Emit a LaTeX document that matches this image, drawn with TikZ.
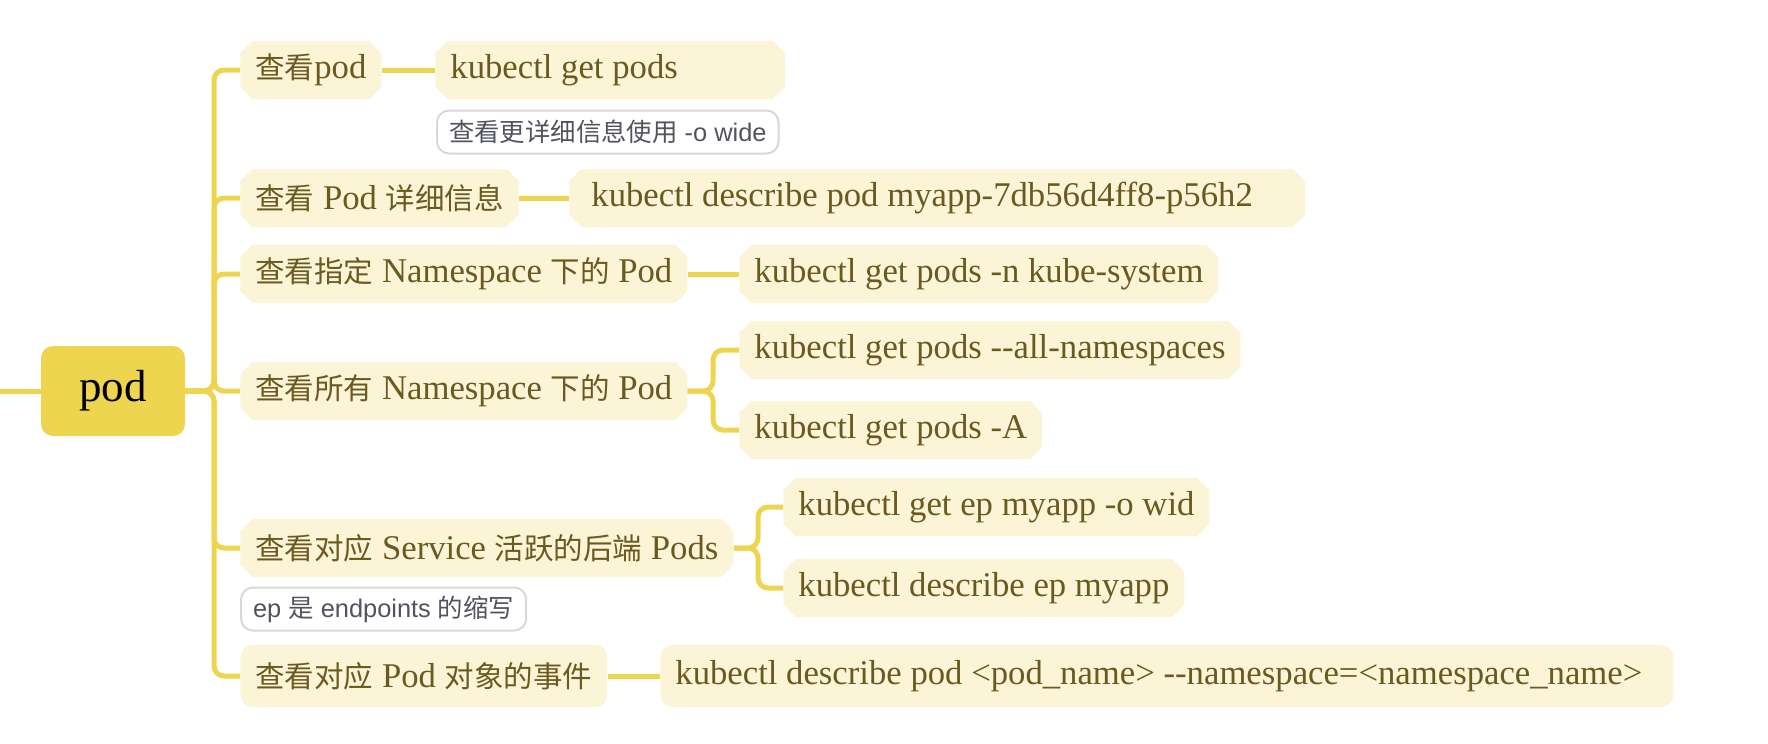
\documentclass[tikz,border=0pt]{standalone}
\usepackage{fontspec}
\setmainfont{Liberation Serif}
\setsansfont{Liberation Sans}
\newfontfamily\cjk{Noto Sans CJK SC}[Scale=0.85]
\newfontfamily\cjknote{Noto Sans CJK SC}
\newcommand{\zh}[1]{{\cjk #1}}
\newcommand{\zhn}[1]{{\cjknote #1}}
\definecolor{linkc}{HTML}{EED54F}
\definecolor{rootc}{HTML}{EED54F}
\definecolor{boxc}{HTML}{FCF4D7}
\definecolor{textc}{HTML}{6B5A1F}
\definecolor{notec}{HTML}{D8D8DC}
\definecolor{notetext}{HTML}{51545E}
\usetikzlibrary{shapes.misc}

\begin{document}
\begin{tikzpicture}[x=0.5pt, y=-0.5pt, font=\fontsize{17.35pt}{20pt}\selectfont]
    \tikzset{
        link/.style={draw=linkc, line width=2.5pt, rounded corners=5pt},
        rootbox/.style={fill=rootc, rounded corners=6pt, minimum width=72pt, minimum height=45pt,
            font=\fontsize{22.5pt}{26pt}\selectfont},
        topic/.style={chamfered rectangle, chamfered rectangle xsep=3pt, chamfered rectangle ysep=3pt,
            fill=boxc, text=textc, anchor=west, inner xsep=4.5pt, inner ysep=0pt, minimum height=29pt},
        roundtopic/.style={fill=boxc, text=textc, anchor=west, rounded corners=6pt, inner xsep=7.5pt,
            inner ysep=0pt, minimum height=31pt},
        note/.style={draw=notec, line width=1pt, fill=white, rounded corners=6pt, text=notetext,
            font=\sffamily\fontsize{12.7pt}{15pt}\selectfont, anchor=west, inner xsep=6pt,
            inner ysep=0pt, minimum height=21.5pt},
    }
    \useasboundingbox (0,0) rectangle (1768,744);

    \node[rootbox] (root) at (113,391) {pod};
    \coordinate (stub) at (0,391);
    \coordinate (spine) at (214,391);

    % first level
    \node[topic] (t1) at (240,70) {\zh{查看}pod};
    \node[topic] (t2) at (240,198) {\zh{查看} Pod \zh{详细信息}};
    \node[topic] (t3) at (240,274) {\zh{查看指定} Namespace \zh{下的} Pod};
    \node[topic] (t4) at (240,391) {\zh{查看所有} Namespace \zh{下的} Pod};
    \node[topic] (t5) at (240,548) {\zh{查看对应} Service \zh{活跃的后端} Pods};
    \node[roundtopic] (t6) at (240,676) {\zh{查看对应} Pod \zh{对象的事件}};

    % notes
    \node[note] (n1) at (436,132) {\zhn{查看更详细信息使用} -o wide};
    \node[note] (n5) at (240,609) {ep \zhn{是} endpoints \zhn{的缩写}};

    % commands
    \node[topic] (c1) at (435,70) {kubectl get pods\hspace{46pt}\mbox{}};
    \node[topic] (c2) at (569,198) {\hspace{3.5pt}kubectl describe pod myapp-7db56d4ff8-p56h2\hspace{18.5pt}\mbox{}};
    \node[topic] (c3) at (739,274) {kubectl get pods -n kube-system};
    \node[topic] (c4a) at (739,350) {kubectl get pods -{}-all-namespaces};
    \node[topic] (c4b) at (739,430) {kubectl get pods -A};
    \node[topic] (c5a) at (783,507) {kubectl get ep myapp -o wid};
    \node[topic] (c5b) at (783,588) {kubectl describe ep myapp};
    \node[roundtopic] (c6) at (660,676) {kubectl describe pod <pod\_name> -{}-namespace=<namespace\_name>\hspace{8pt}\mbox{}};

    \coordinate (b4) at (713,391);
    \coordinate (b5) at (758,548);

    \draw[link] (stub) -- (root);
    \foreach \tn in {t1,t2,t3,t4,t5,t6}
        \draw[link] (root.east) -- (spine) |- (\tn.west);

    \draw[link] (t1.east) -- (c1.west);
    \draw[link] (t2.east) -- (c2.west);
    \draw[link] (t3.east) -- (c3.west);
    \draw[link] (t4.east) -- (b4) |- (c4a.west);
    \draw[link] (t4.east) -- (b4) |- (c4b.west);
    \draw[link] (t5.east) -- (b5) |- (c5a.west);
    \draw[link] (t5.east) -- (b5) |- (c5b.west);
    \draw[link] (t6.east) -- (c6.west);
\end{tikzpicture}
\end{document}
